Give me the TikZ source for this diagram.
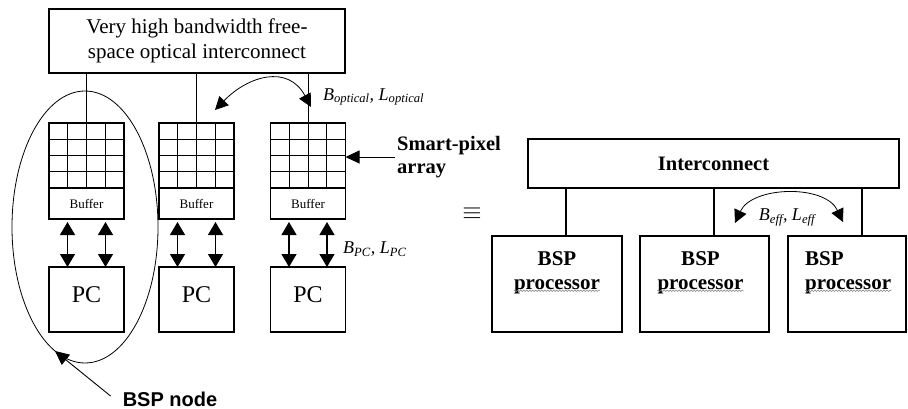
\documentclass[tikz,border=0pt]{standalone}
\usepackage{fontspec}
\setmainfont{Liberation Serif}
\setsansfont{Liberation Sans}
\usetikzlibrary{positioning, arrows.meta, shapes, calc, decorations.pathmorphing}

\begin{document}
\begin{tikzpicture}[
    x=1pt, y=-1pt,
    box/.style={rectangle, draw, line width=1.1pt, inner sep=0pt, outer sep=0pt},
    cell/.style={box, minimum width=75pt, minimum height=65pt},
    buffer/.style={box, minimum width=75pt, minimum height=31pt, font=\fontsize{13}{15}\selectfont},
    pcbox/.style={box, minimum width=75pt, minimum height=65pt, font=\fontsize{24}{26}\selectfont, text height=17pt, text depth=12pt},
    bspbox/.style={box, line width=1.3pt, minimum height=96pt},
    boldtext/.style={font=\fontsize{20.5}{23}\selectfont\bfseries},
    bsptext/.style={font=\fontsize{21}{24}\selectfont\bfseries, inner sep=0pt},
    link/.style={line width=1pt},
    thicklink/.style={line width=2.6pt},
    dbl/.style={line width=1.2pt, {Triangle[length=13pt, width=15pt]}-{Triangle[length=13pt, width=15pt]}},
    curvarrow/.style={line width=0.8pt, {Triangle[length=13pt, width=13pt]}-{Triangle[length=13pt, width=13pt]}},
    ptr/.style={line width=0.9pt, -{Triangle[length=14pt, width=13pt]}},
    squig/.style={gray, line width=0.5pt, decorate, decoration={snake, amplitude=0.8pt, segment length=3pt}},
    param/.style={font=\fontsize{18}{20}\selectfont\itshape, anchor=west, inner sep=0pt}
]
\useasboundingbox (0,0) rectangle (908,409);

% optical interconnect
\node[box, minimum width=296pt, minimum height=64pt, align=center, font=\fontsize{21}{25}\selectfont] (optic) at (197,41) {Very high bandwidth free-\\space optical interconnect};

% smart-pixel arrays, buffers, PCs
\foreach \i/\x in {1/86.5, 2/196.5, 3/308} {
    \node[cell] (arr\i) at (\x, 155.5) {};
    \foreach \k in {1,2,3} {
        \draw[line width=1pt] ([xshift=\k*18.75pt]arr\i.north west) -- ([xshift=\k*18.75pt]arr\i.south west);
        \draw[line width=1pt] ([yshift=-\k*16.25pt]arr\i.north west) -- ([yshift=-\k*16.25pt]arr\i.north east);
    }
    \node[buffer, below=0pt of arr\i] (buf\i) {Buffer};
    \node[pcbox, below=48pt of buf\i] (pc\i) {PC};
    \foreach \d in {-19,19}
        \draw[dbl] ([xshift=\d pt, yshift=-3pt]buf\i.south) -- ([xshift=\d pt]pc\i.north);
    \draw[link] (arr\i.north) -- (arr\i.north |- optic.south);
}

% optical link
\coordinate (optL) at (215,110);
\coordinate (optR) at (311,107);
\draw[curvarrow] (optL) .. controls (248,76) and (288,64) .. (optR);
\node[param] (optlab) at (323,97) {B\textsubscript{optical}, L\textsubscript{optical}};
\node[param] (pclab) at (343,249) {B\textsubscript{PC}, L\textsubscript{PC}};

% smart-pixel label
\node[boldtext, anchor=west, align=left, inner sep=2pt] (spa) at (395,157) {Smart-pixel\\array};
\draw[ptr] (spa.west) -- (spa.west -| arr3.east);

% BSP node
\draw[line width=0.8pt] (85,227) ellipse [x radius=73pt, y radius=136pt];
\coordinate (elltip) at (55,351);
\node[font=\fontsize{20}{22}\selectfont\sffamily\bfseries, inner sep=2pt] (bspn) at (170,399) {BSP node};
\draw[ptr] ([xshift=-10pt, yshift=3pt]bspn.west) -- (elltip);

% equivalence
\node[font=\fontsize{24}{26}\selectfont, inner sep=0pt] (eqv) at (472,214) {$\equiv$};

% BSP computer
\node[box, line width=1.3pt, minimum width=371pt, minimum height=49pt, boldtext] (inter) at (713.5,163.5) {Interconnect};
\node[bspbox, minimum width=130pt, label={[bsptext, name=t1, anchor=north, align=center, yshift=-15pt]north:BSP\\processor}] (bsp1) at (557,284) {};
\node[bspbox, minimum width=129pt, label={[bsptext, name=t2, anchor=north, align=center, yshift=-15pt, xshift=-4pt]north:BSP\\processor}] (bsp2) at (704.5,284) {};
\node[bspbox, minimum width=118pt, label={[bsptext, name=t3, anchor=north west, align=left, yshift=-15pt, xshift=17pt]north west:BSP\\processor}] (bsp3) at (847,284) {};
\foreach \i/\s in {1/9, 2/9.5, 3/15} {
    \draw[thicklink] ([xshift=\s pt]bsp\i.north) -- ([xshift=\s pt]bsp\i.north |- inter.south);
    \draw[squig] ([yshift=3pt]t\i.south west) -- ([yshift=3pt]t\i.south east);
}

% effective link
\coordinate (effL) at (735,223);
\coordinate (effR) at (843,222);
\draw[curvarrow] (effL) .. controls (752,186) and (825,184) .. (effR);
\node[param, anchor=center] (efflab) at (787,217) {B\textsubscript{eff}, L\textsubscript{eff}};

\end{tikzpicture}
\end{document}
